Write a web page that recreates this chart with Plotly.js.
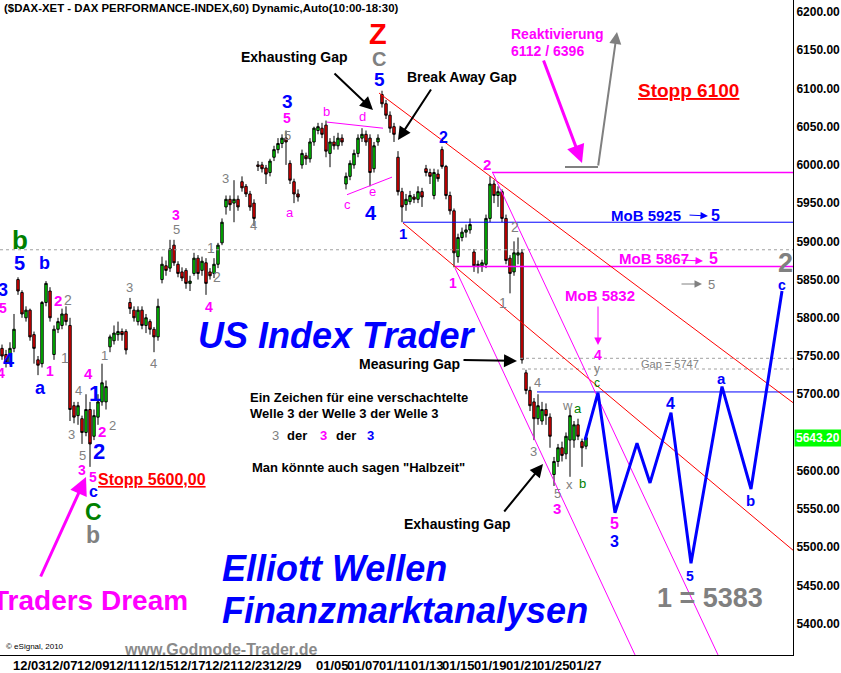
<!DOCTYPE html>
<html><head><meta charset="utf-8">
<script src="https://cdn.plot.ly/plotly-3.0.1.min.js"></script>
<style>html,body{margin:0;padding:0;background:#fff}#chart{width:841px;height:673px}</style>
</head><body><div id="chart"></div>
<script>
// ---------- DATA ----------
const opens  = [5760,5752,5742,5760,5850,5833,5800,5810,5778,5745,5740,5820,5835,5752,5785,5790,5805,5790,5685,5672,5668,5650,5680,5645,5670,5690,5690,5762,5770,5778,5782,5782,5820,5810,5795,5810,5790,5795,5785,5775,5850,5868,5865,5895,5870,5860,5862,5845,5858,5878,5862,5872,5860,5858,5870,5898,5945,5955,5950,5955,5978,5972,5962,5950,6000,6000,5996,5990,6010,6020,6028,6035,6002,5978,5962,6000,6012,6008,6030,6045,6048,6052,6015,6030,6025,6035,5975,5985,6000,6015,6035,6040,6035,5995,6030,6092,6080,6065,6050,6010,5965,5948,5952,5958,5955,5965,5995,5990,5960,5988,6020,5998,5960,5940,5880,5905,5912,5915,5886,5868,5868,5870,5930,5975,5960,5965,5930,5878,5860,5882,5885,5728,5705,5690,5668,5665,5680,5670,5595,5612,5630,5622,5640,5640,5660,5638,5632];
const highs  = [5765,5758,5768,5805,5853,5836,5815,5812,5782,5750,5822,5848,5840,5790,5800,5812,5815,5800,5690,5690,5672,5700,5690,5680,5700,5740,5718,5778,5790,5795,5786,5785,5826,5815,5815,5815,5805,5798,5788,5825,5880,5875,5902,5902,5874,5866,5865,5855,5885,5882,5880,5878,5865,5878,5898,5930,5960,5960,5980,5960,5985,5975,5966,5955,6005,6004,6000,6008,6025,6035,6040,6045,6006,5982,5968,6020,6016,6035,6050,6055,6055,6058,6035,6038,6042,6040,5990,6006,6020,6040,6048,6045,6040,6030,6040,6097,6085,6070,6055,6018,5970,5962,5966,5962,5972,5970,6000,5995,5995,5994,6024,6000,5965,5943,5910,5918,5922,5930,5890,5875,5876,5935,5985,5980,5972,5968,5935,5882,5900,5905,5890,5732,5710,5695,5700,5690,5688,5675,5618,5635,5638,5650,5680,5665,5668,5642,5646];
const lows   = [5745,5735,5738,5755,5830,5800,5795,5770,5740,5725,5735,5815,5795,5745,5780,5785,5790,5665,5662,5660,5635,5645,5605,5640,5660,5685,5680,5755,5765,5770,5770,5752,5805,5795,5790,5785,5780,5778,5755,5770,5845,5855,5860,5868,5853,5848,5838,5835,5855,5850,5855,5830,5850,5852,5865,5895,5935,5940,5925,5940,5965,5958,5940,5920,5992,5990,5975,5985,6005,6015,6022,6000,5975,5950,5952,5995,6000,6003,6025,6040,6035,6010,5997,6020,6020,6025,5968,5980,5995,6010,6030,6025,5972,5990,6025,6075,6060,6042,6030,5960,5925,5940,5948,5950,5950,5945,5985,5975,5955,5978,5995,5955,5935,5866,5872,5900,5905,5910,5860,5858,5860,5865,5925,5950,5945,5925,5870,5832,5855,5870,5740,5700,5678,5640,5660,5660,5660,5630,5580,5605,5612,5615,5592,5630,5640,5605,5628];
const closes = [5750,5742,5760,5785,5835,5805,5810,5775,5760,5738,5820,5845,5800,5785,5795,5805,5795,5680,5670,5685,5650,5680,5635,5672,5690,5715,5710,5775,5780,5782,5778,5758,5812,5800,5810,5790,5800,5785,5775,5815,5870,5862,5890,5872,5858,5852,5845,5848,5878,5858,5874,5845,5855,5870,5895,5925,5955,5948,5955,5945,5970,5962,5945,5930,5998,5995,5988,6005,6020,6028,6035,6030,5980,5962,5958,6015,6008,6030,6048,6050,6040,6018,6030,6025,6035,6030,5985,6002,6015,6035,6040,6030,5990,6025,6035,6080,6065,6048,6040,5965,5945,5955,5960,5955,5965,5958,5990,5985,5990,5982,5998,5960,5940,5885,5905,5912,5915,5922,5868,5870,5872,5930,5975,5960,5965,5930,5875,5858,5885,5885,5745,5705,5685,5668,5685,5680,5672,5645,5612,5630,5620,5645,5672,5660,5645,5630,5643.2];

const tickVals = [6.75,14.75,22.75,30.75,38.75,46.75,54.75,62.75,70.75,82.5,90.4,98.25,106.25,114.1,122,130,137.75,145.75];
const tickText = ['12/03','12/07','12/09','12/11','12/15','12/17','12/21','12/23','12/29','01/05','01/07','01/11','01/13','01/15','01/19','01/21','01/25','01/27'];
const priceTicks = [5400,5450,5500,5550,5600,5700,5750,5800,5850,5900,5950,6000,6050,6100,6150,6200];

// horizontal levels (price) and the bar where each starts
const levelPrice = [5889, 5990, 5925, 5867, 5703, 5747, 5733];
const levelStart = [-0.5, 122.5, 100.25, 113.25, 133.75, 129.5, 130];
const levelColor = ['#a0a0a0','#ff00ff','#0000ff','#ff00ff','#0000ff','#a0a0a0','#a0a0a0'];
const levelDash  = ['dot','solid','solid','solid','solid','dot','dot'];

// red trend channel
const redLineX = [[94.25, 197.75],[100.25, 197.75]];
const redLineY = [[6094, 5689],[5924, 5496]];
// magenta trend lines
const magLineX = [[81.25, 95.25],[86.25, 97.5],[113.25, 158.25],[122.75, 179]];
const magLineY = [[6056, 6048],[5961, 5984],[5865, 5359],[5989, 5359]];

// projected wave path
const projX = [145.75, 149, 153.25, 158.75, 162, 167.25, 172.25, 180, 187.25, 195];
const projY = [5640, 5702, 5545, 5636, 5584, 5676, 5479, 5710, 5576, 5835];

const lastPrice = 5643.20;

// ---------- CHART ----------
const FONT = '"Liberation Sans", Arial, sans-serif';
const XMAX = 197.75;
const traces = [];
traces.push({
  type:'candlestick', x: opens.map((_, i) => i), open: opens, high: highs, low: lows, close: closes,
  increasing:{line:{color:'#000', width:1}, fillcolor:'#00e000'},
  decreasing:{line:{color:'#000', width:1}, fillcolor:'#ff0000'},
  whiskerwidth:0, hoverinfo:'skip', showlegend:false
});
levelPrice.forEach((p, k) => traces.push({type:'scatter', mode:'lines', x:[levelStart[k], XMAX], y:[p, p],
  line:{color:levelColor[k], width: levelColor[k]==='#ff00ff' ? 1.5 : 1, dash:levelDash[k]}, hoverinfo:'skip', showlegend:false}));
redLineX.forEach((xs, k) => traces.push({type:'scatter', mode:'lines', x:xs, y:redLineY[k], line:{color:'#ff0000', width:1}, hoverinfo:'skip', showlegend:false}));
magLineX.forEach((xs, k) => traces.push({type:'scatter', mode:'lines', x:xs, y:magLineY[k], line:{color:'#ff00ff', width:1}, hoverinfo:'skip', showlegend:false}));
traces.push({type:'scatter', mode:'lines', x:projX, y:projY, line:{color:'#0000ff', width:3}, hoverinfo:'skip', showlegend:false});

const W = 793, H = 655;
function T(text, x, y, color, size, o) {
  o = o || {};
  return {text, x:x/W, y:1-y/H, xref:'paper', yref:'paper', showarrow:false,
    xanchor:o.anchor||'center', yanchor:'middle',
    font:{family:o.family||FONT, size, color, weight:o.normal?'normal':'bold', style:o.italic?'italic':'normal'}};
}
function A(x0, y0, x1, y1, color, width, head, size) {
  return {text:'', x:x1/W, y:1-y1/H, xref:'paper', yref:'paper', ax:x0-x1, ay:y0-y1, axref:'pixel', ayref:'pixel',
    showarrow:true, arrowhead:head, arrowsize:size||1, arrowwidth:width, arrowcolor:color, standoff:0};
}
const BL='#0000ff', MG='#ff00ff', GR='#808080', GN='#008000', RD='#ff0000', BK='#000000';
const ann = [
  T('($DAX-XET - DAX PERFORMANCE-INDEX,60) Dynamic,Auto(10:00-18:30)', 2, 8, BK, 11.4, {anchor:'left'}),
  T('Z', 378, 34, RD, 29), T('C', 379, 59, GR, 20), T('5', 379, 80, BL, 19),
  T('Exhausting Gap', 294, 57, BK, 14), T('Break Away Gap', 462, 77, BK, 14),
  T('Reaktivierung', 509, 34, MG, 14, {anchor:'left'}), T('6112 / 6396', 509, 51, MG, 14, {anchor:'left'}),
  T('<u>Stopp 6100</u>', 688, 90, RD, 19),
  T('3', 287, 102, BL, 19), T('5', 287, 118, MG, 14), T('5', 287, 135, GR, 13, {normal:true}),
  T('b', 326, 112, MG, 13, {normal:true}), T('d', 362, 117, MG, 13, {normal:true}),
  T('c', 347, 205, MG, 13, {normal:true}), T('e', 372, 191, MG, 13, {normal:true}), T('4', 371, 213, BL, 20),
  T('a', 290, 212, MG, 13, {normal:true}), T('3', 225, 178, GR, 13, {normal:true}), T('4', 253, 225, GR, 13, {normal:true}),
  T('2', 443, 137, BL, 16), T('1', 403, 233, BL, 15),
  T('2', 487, 165, MG, 15), T('1', 453, 283, MG, 14),
  T('2', 515, 227, GR, 14, {normal:true}), T('1', 503, 303, GR, 14, {normal:true}),
  T('MoB 5925', 646, 215, BL, 15), T('5', 715, 215, BL, 16),
  T('MoB 5867', 654, 259, MG, 15), T('5', 713, 259, MG, 16),
  T('5', 711, 285, GR, 13, {normal:true}),
  T('MoB 5832', 600, 295, MG, 15),
  T('2', 785, 263, GR, 27), T('c', 782, 285, BL, 14),
  T('4', 598, 355, MG, 14), T('y', 597, 369, GR, 12, {normal:true}), T('c', 597, 383, GN, 12, {normal:true}),
  T('Gap = 5747', 670, 364, GR, 11, {normal:true}),
  T('a', 721, 378, BL, 15), T('4', 670, 403, BL, 16), T('b', 750, 500, BL, 15),
  T('5', 614, 523, MG, 16), T('3', 614, 541, BL, 16), T('5', 690, 576, BL, 14),
  T('4', 537, 383, GR, 13, {normal:true}), T('w', 567, 405, GR, 13, {normal:true}), T('a', 578, 408, GN, 13, {normal:true}),
  T('3', 533, 451, GR, 13, {normal:true}), T('5', 557, 493, GR, 13, {normal:true}), T('3', 557, 508, MG, 15),
  T('x', 569, 484, GR, 13, {normal:true}), T('b', 582, 483, GN, 13, {normal:true}),
  T('US Index Trader', 336, 335, BL, 36, {italic:true}),
  T('Measuring Gap', 409, 364, BK, 14),
  T('Ein Zeichen für eine verschachtelte', 248, 397, BK, 13, {anchor:'left'}),
  T('Welle 3 der Welle 3 der Welle 3', 248, 413, BK, 13, {anchor:'left'}),
  T('3', 275, 436, GR, 13, {normal:true}), T('der', 297, 436, BK, 13), T('3', 323, 436, MG, 13), T('der', 346, 436, BK, 13), T('3', 370, 436, BL, 13),
  T('Man könnte auch sagen "Halbzeit"', 250, 468, BK, 13, {anchor:'left'}),
  T('Exhausting Gap', 457, 524, BK, 14),
  T('Elliott Wellen', 220, 568, BL, 36, {anchor:'left', italic:true}),
  T('Finanzmarktanalysen', 220, 610, BL, 36, {anchor:'left', italic:true}),
  T('Traders Dream', 90, 600, MG, 28),
  T('1 = 5383', 710, 598, GR, 27),
  T('© eSignal, 2010', 4, 646, BK, 8, {anchor:'left', normal:true}),
  T('www.Godmode-Trader.de', 122, 649, '#8a8a8a', 16, {anchor:'left', family:'"Liberation Sans Narrow", "Arial Narrow", sans-serif'}),
  T('<u>Stopp 5600,00</u>', 152, 479, RD, 16),
  T('b', 20, 240, GN, 26), T('5', 19, 263, BL, 20), T('b', 44, 263, BL, 18),
  T('3', 3, 290, BL, 18), T('5', 3, 308, MG, 14), T('4', 9, 360, BL, 20), T('4', 1, 373, MG, 14),
  T('a', 40, 388, BL, 18), T('1', 50, 371, MG, 14), T('2', 58, 300, MG, 15), T('2', 68, 300, GR, 14, {normal:true}),
  T('1', 65, 358, GR, 14, {normal:true}), T('3', 129, 287, GR, 13, {normal:true}), T('4', 153, 363, GR, 13, {normal:true}),
  T('1', 105, 355, GR, 13, {normal:true}), T('4', 88, 373, MG, 15), T('1', 95, 393, BL, 22), T('4', 78, 390, GR, 13, {normal:true}),
  T('2', 99, 452, BL, 22), T('2', 102, 431, MG, 15), T('2', 112, 425, GR, 13, {normal:true}),
  T('3', 71, 434, GR, 13, {normal:true}), T('5', 82, 455, GR, 13, {normal:true}), T('3', 82, 470, MG, 14),
  T('5', 93, 477, MG, 14), T('c', 93, 491, BL, 16), T('C', 93, 512, GN, 23), T('b', 93, 535, GR, 23),
  T('3', 176, 215, MG, 14), T('5', 176, 229, GR, 13, {normal:true}), T('4', 209, 307, MG, 14),
  T('1', 211, 248, GR, 14, {normal:true}), T('2', 217, 277, GR, 14, {normal:true}),
  // arrows
  A(333, 72, 373, 110, BK, 2, 2, 1.3),
  A(432, 88, 398, 140, BK, 2, 2, 1.3),
  A(462, 360, 517, 361, BK, 2, 2, 1.3),
  A(503, 513, 543, 464, BK, 2, 2, 1.3),
  A(543, 59, 582, 163, MG, 3, 2, 1.2),
  A(598, 167, 617, 32, GR, 2, 2, 1.2),
  A(40, 578, 86, 477, MG, 3, 2, 1.2),
  A(598, 305, 598, 345, MG, 1, 2, 1.5),
  A(688, 215, 708, 216, BL, 1, 2, 1.5),
  A(680, 260, 703, 261, MG, 1, 2, 1.5),
  A(680, 284, 702, 284, GR, 1, 2, 1.5),
  {text:'5643.20', xref:'paper', x:1, xanchor:'left', xshift:1, yref:'y', y:lastPrice, yanchor:'middle', showarrow:false,
   bgcolor:'#00ff00', borderpad:1, font:{family:FONT, size:12, color:'#ffffff', weight:'bold'}}
];
// date labels under the axis, drawn from the tick arrays
tickVals.forEach((v, k) => ann.push({text:tickText[k], xref:'x', x:v, yref:'paper', y:0, yanchor:'top', yshift:-1,
  xanchor:'center', showarrow:false, font:{family:FONT, size:13, color:'#000', weight:'bold'}}));

const shapes = [
  {type:'line', xref:'paper', yref:'paper', x0:565/W, x1:598/W, y0:1-167/H, y1:1-167/H, line:{color:GR, width:2}}
];

const layout = {
  width:841, height:673, margin:{l:0, r:48, t:0, b:18},
  paper_bgcolor:'#fff', plot_bgcolor:'#fff', showlegend:false, boxgap:0.15,
  xaxis:{range:[-0.5, XMAX], tickvals:tickVals, showticklabels:false, showgrid:false, zeroline:false,
    showline:true, linecolor:'#000', linewidth:1, ticks:'', rangeslider:{visible:false}, fixedrange:true},
  yaxis:{range:[5358.9, 6215.7], side:'right', tickvals:priceTicks,
    tickformat:'.2f', showgrid:false, zeroline:false, showline:true, linecolor:'#000', linewidth:1, ticks:'',
    tickfont:{family:FONT, size:12, color:'#000', weight:'bold'}, fixedrange:true},
  annotations: ann, shapes: shapes
};
Plotly.newPlot('chart', traces, layout, {displayModeBar:false, staticPlot:true});
</script></body></html>
